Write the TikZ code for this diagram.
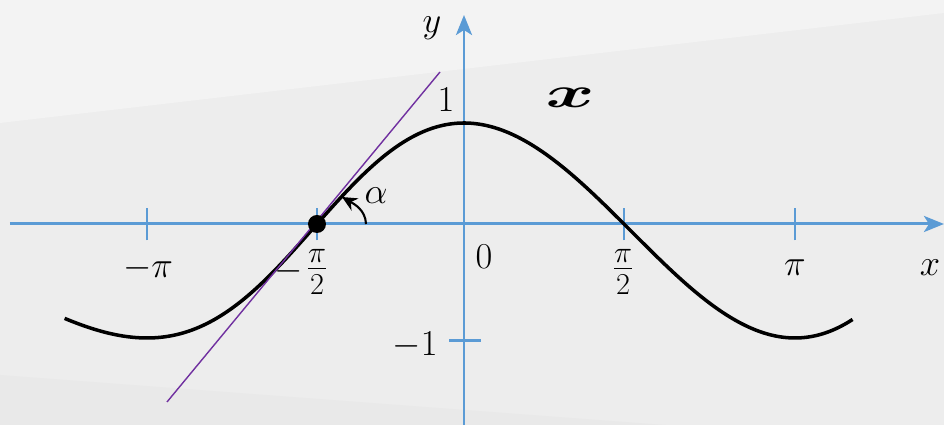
\documentclass[tikz,border=0pt]{standalone}
\usepackage{bm}
\usetikzlibrary{arrows.meta}
\definecolor{axisblue}{HTML}{5B9BD5}
\definecolor{tanpurple}{HTML}{7030A0}
\definecolor{bgtop}{HTML}{F3F3F3}
\definecolor{bgmid}{HTML}{EDEDED}
\definecolor{bgbot}{HTML}{E9E9E9}
\begin{document}
\begin{tikzpicture}[x=1cm, y=1cm,
    axis/.style={draw=axisblue, line width=1.7pt, -{Stealth[length=0.4cm, width=0.32cm, inset=0.1cm]}},
    tick/.style={draw=axisblue, line width=1.7pt},
    lbl/.style={font=\fontsize{21}{25}\selectfont, inner sep=0pt},
    frac/.style={font=\fontsize{26}{30}\selectfont, inner sep=0pt}]
    \useasboundingbox (-9.28,-4.02) rectangle (9.6,4.48);
    \fill[bgmid] (-9.28,-4.02) rectangle (9.6,4.48);
    \fill[bgtop] (-9.28,4.48) -- (9.6,4.48) -- (9.6,4.22) -- (-9.28,2.02) -- cycle;
    \fill[bgbot] (-9.28,-3.02) -- (4.02,-4.02) -- (-9.28,-4.02) -- cycle;
    % axes and ticks
    \coordinate (xs) at (-9.08,0);
    \coordinate (xe) at (9.6,0);
    \coordinate (ys) at (0,-4.02);
    \coordinate (ye) at (0,4.18);
    \draw[axis] (xs) -- (xe);
    \draw[axis] (ys) -- (ye);
    \foreach \p in {-6.34,-2.94,3.2,6.62} \draw[tick] (\p,-0.33) -- (\p,0.31);
    \draw[tick] (-0.3,-2.34) -- (0.34,-2.34);
    % the curve
    \draw[black, line width=2pt] plot[domain=-2.37:2.36, samples=150, smooth]
        ({3.0133*(\x)+0.1617*(\x)*(\x)+0.0567*(\x)*(\x)*(\x)-0.0317*(\x)*(\x)*(\x)*(\x)},
         {cos(90*(\x))*(2.15-0.13*cos(90*(\x)))});
    % tangent at -pi/2
    \coordinate (ta) at (-5.94,-3.56);
    \coordinate (tb) at (-0.48,3.04);
    \draw[tanpurple, line width=0.8pt] (ta) -- (tb);
    \node[circle, fill=black, inner sep=0pt, minimum size=0.36cm] (pt) at (-2.94,0) {};
    \coordinate (as) at (-1.96,0);
    \coordinate (ae) at (-2.44,0.54);
    \draw[line width=1.2pt, -{Stealth[length=0.3cm, width=0.28cm]}] (as) to[out=92, in=-30] (ae);
    % labels
    \node[lbl] (ylab) at (-0.64,3.92) {$y$};
    \node[lbl] (xlab) at (9.32,-0.88) {$x$};
    \node[lbl] (one) at (-0.36,2.48) {$1$};
    \node[lbl] (mone) at (-0.98,-2.42) {$-1$};
    \node[lbl] (zero) at (0.4,-0.66) {$0$};
    \node[lbl] (mpi) at (-6.32,-0.88) {$-\pi$};
    \node[lbl] (minus) at (-3.5,-0.94) {$-$};
    \node[frac] (mhpi) at (-2.94,-0.96) {$\frac{\pi}{2}$};
    \node[frac] (hpi) at (3.18,-0.96) {$\frac{\pi}{2}$};
    \node[lbl] (pi) at (6.62,-0.88) {$\pi$};
    \node[lbl] (alab) at (-1.76,0.56) {$\alpha$};
    \node[lbl, font=\fontsize{26}{30}\selectfont] (fx) at (2.12,2.52) {\scalebox{1.7}[1]{$\bm{x}$}};
\end{tikzpicture}
\end{document}
